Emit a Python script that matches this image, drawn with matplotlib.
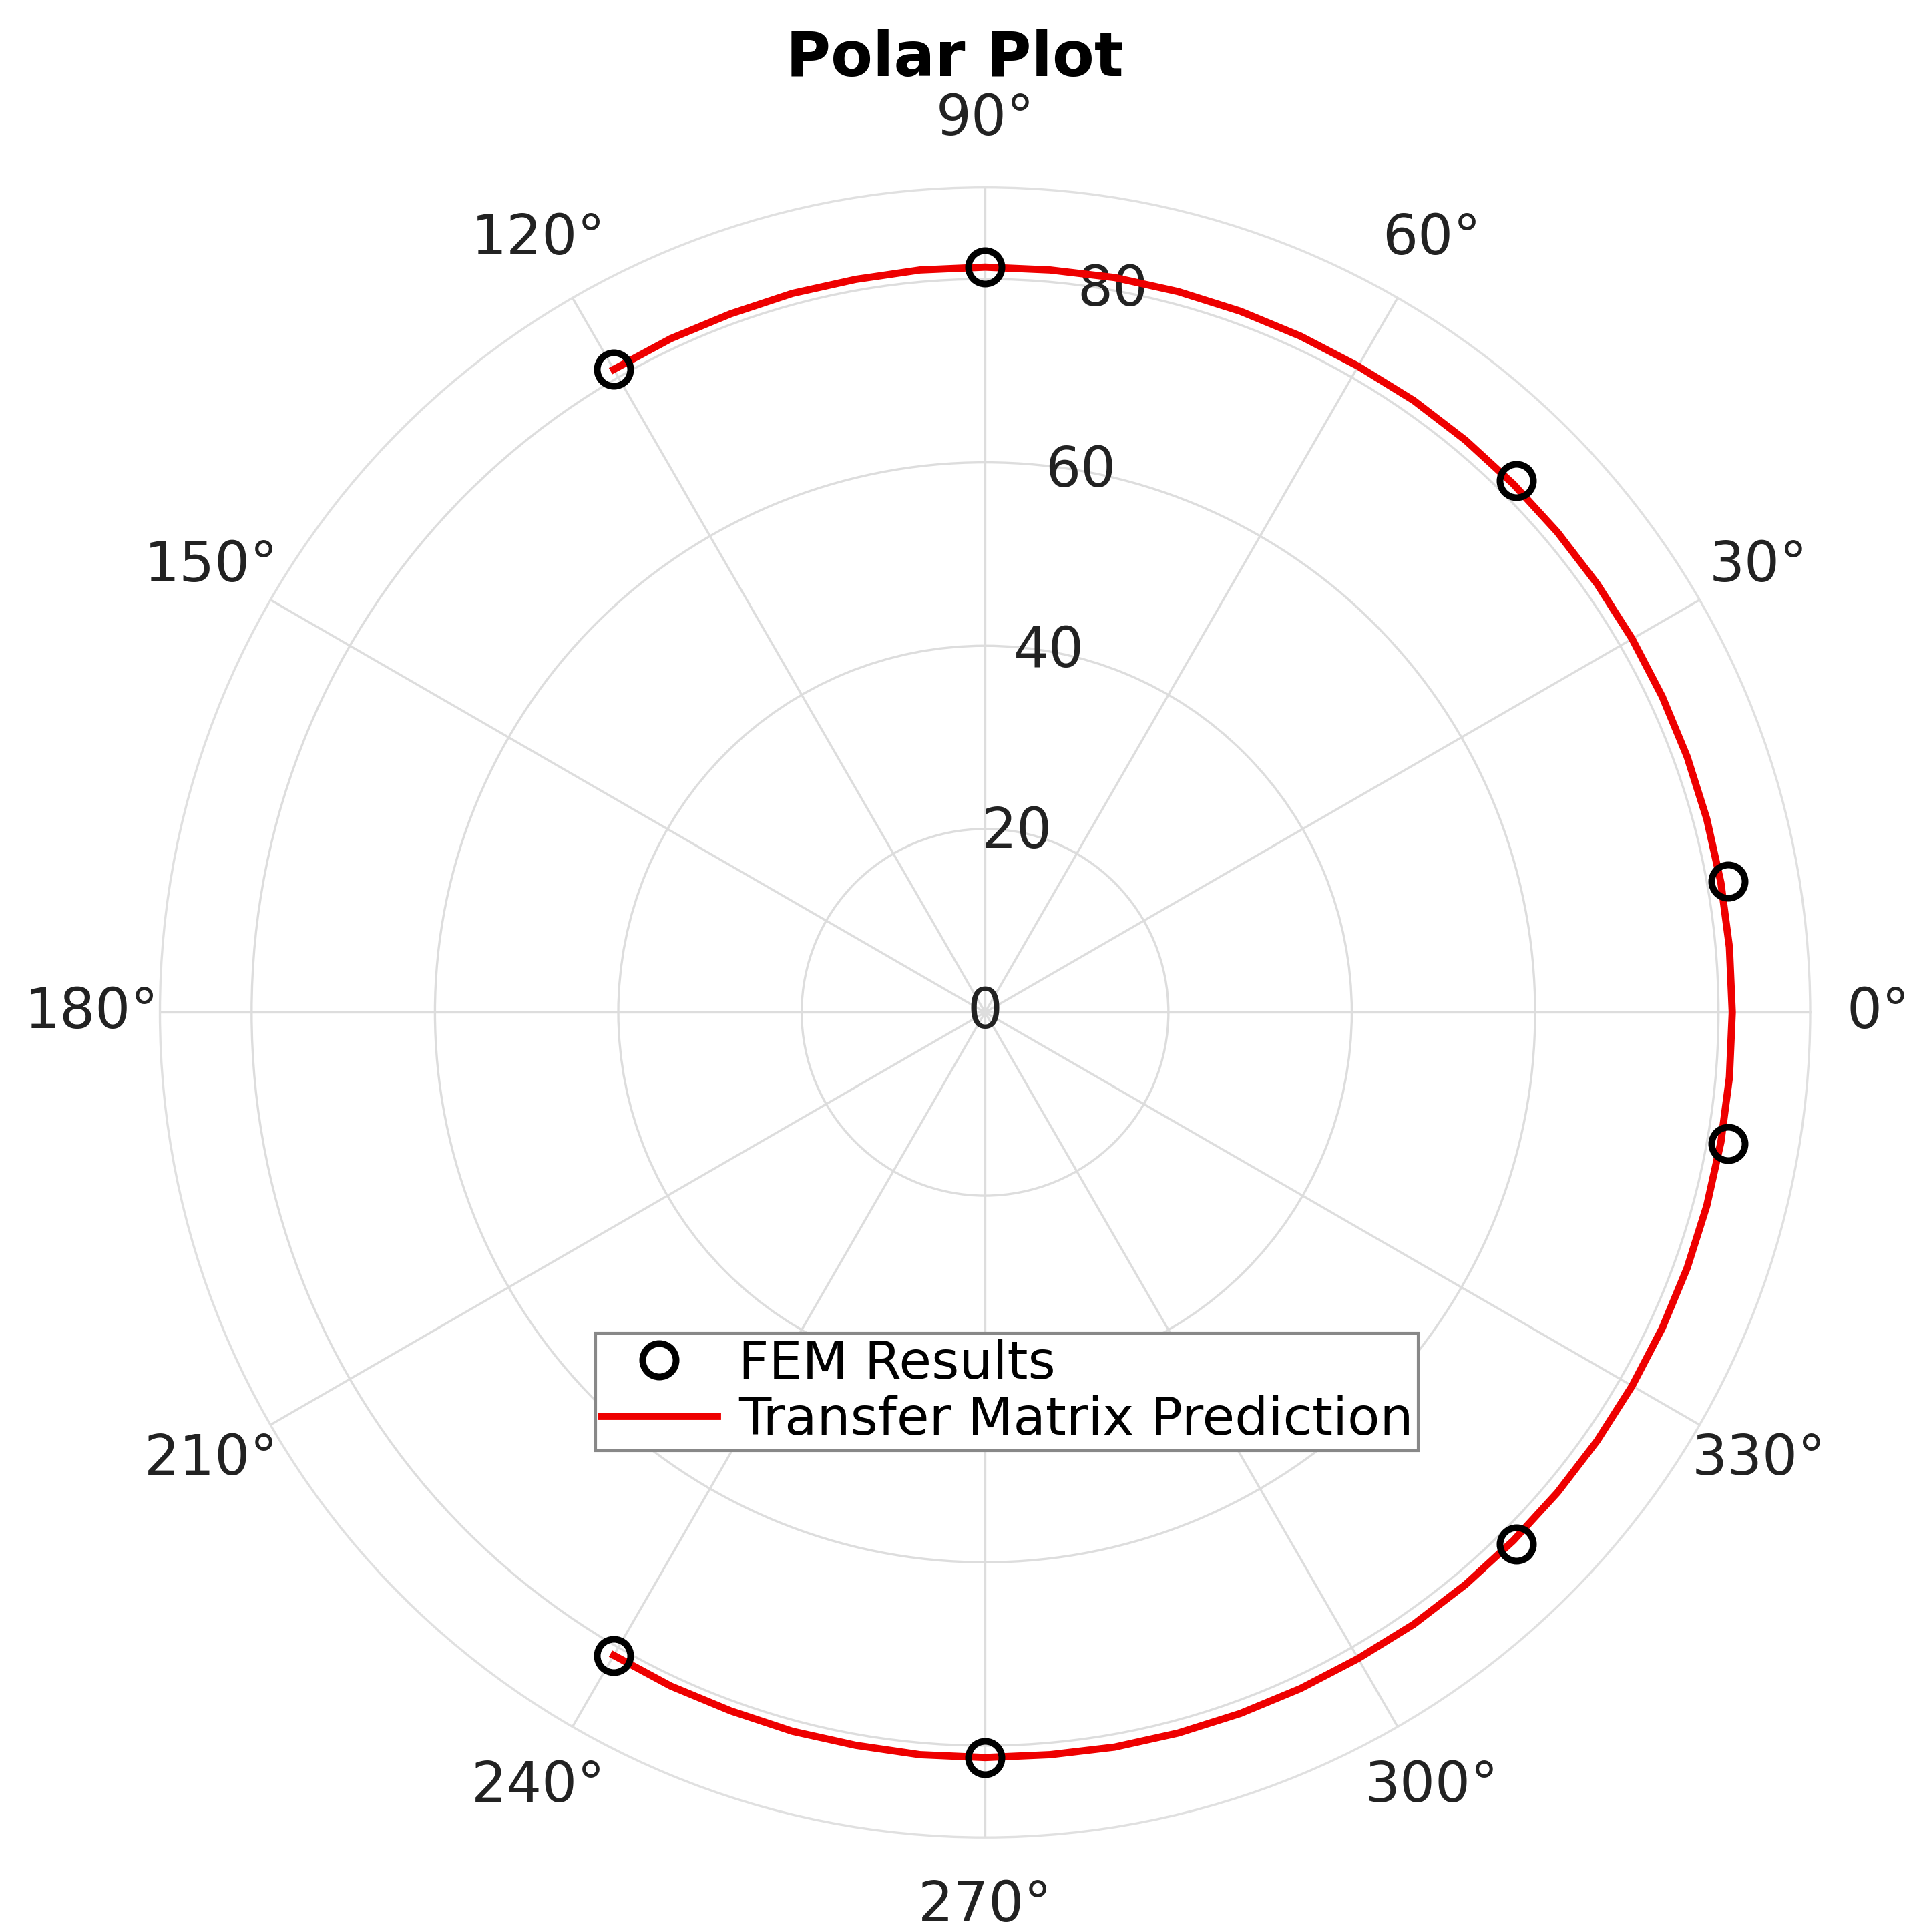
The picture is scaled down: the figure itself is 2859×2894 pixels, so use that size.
import numpy as np
import matplotlib
matplotlib.use("Agg")
import matplotlib.pyplot as plt

fem_angles_deg = [120, 90, 45, 10, -10, -45, -90, -120]
fem_r = [81.0, 81.3, 82.0, 82.3, 82.3, 82.0, 81.3, 81.0]
line_angles_deg = [120, 115, 110, 105, 100, 95, 90, 85, 80, 75, 70, 65, 60, 55, 50, 45, 40, 35,
                   30, 25, 20, 15, 10, 5, 0, -5, -10, -15, -20, -25, -30, -35, -40, -45, -50,
                   -55, -60, -65, -70, -75, -80, -85, -90, -95, -100, -105, -110, -115, -120]
line_r = [81.0, 81.1, 81.1, 81.2, 81.2, 81.3, 81.3, 81.3, 81.4, 81.4, 81.4, 81.4, 81.4, 81.5,
          81.5, 81.5, 81.5, 81.5, 81.5, 81.5, 81.5, 81.5, 81.5, 81.5, 81.5, 81.5, 81.5, 81.5,
          81.5, 81.5, 81.5, 81.5, 81.5, 81.5, 81.5, 81.5, 81.4, 81.4, 81.4, 81.4, 81.4, 81.3,
          81.3, 81.3, 81.2, 81.2, 81.1, 81.1, 81.0]
r_ticks = [0, 20, 40, 60, 80]
r_max = 90
theta_ticks = list(range(0, 360, 30))

fig = plt.figure(figsize=(2859/300, 2894/300), dpi=300)
ax = fig.add_axes([0.083, 0.049, 0.866, 0.854], projection='polar')
ax.plot(np.deg2rad(line_angles_deg), line_r, color='#ee0000', lw=2.6,
        label='Transfer Matrix Prediction', zorder=3)
ax.plot(np.deg2rad(fem_angles_deg), fem_r, 'o', mfc='none', mec='black', mew=2.4,
        ms=12, label='FEM Results', zorder=4)
ax.set_ylim(0, r_max)
ax.set_yticks(r_ticks)
ax.set_yticklabels([str(v) for v in r_ticks], fontsize=20, color='#222222')
ax.set_rlabel_position(80)
for t in ax.get_yticklabels():
    t.set_ha('center'); t.set_va('center')
ax.set_xticks(np.deg2rad(theta_ticks))
ax.set_xticklabels([f"{t}°" for t in theta_ticks], fontsize=20, color='#222222')
ax.tick_params(axis='x', pad=14)
ax.grid(color='#dddddd', lw=0.8)
ax.spines['polar'].set_color('#e0e0e0')
ax.spines['polar'].set_linewidth(0.8)
fig.suptitle('Polar Plot', fontsize=22, fontweight='bold', y=0.985)
h, l = ax.get_legend_handles_labels()
leg = fig.legend(h[::-1], l[::-1], loc='upper left', bbox_to_anchor=(0.312, 0.31),
                 fontsize=19, fancybox=False, edgecolor='#888888', framealpha=1,
                 borderpad=0.1, labelspacing=0.1, handlelength=2.2, handletextpad=0.4,
                 borderaxespad=0)
fig.savefig('out.png', dpi=300)
